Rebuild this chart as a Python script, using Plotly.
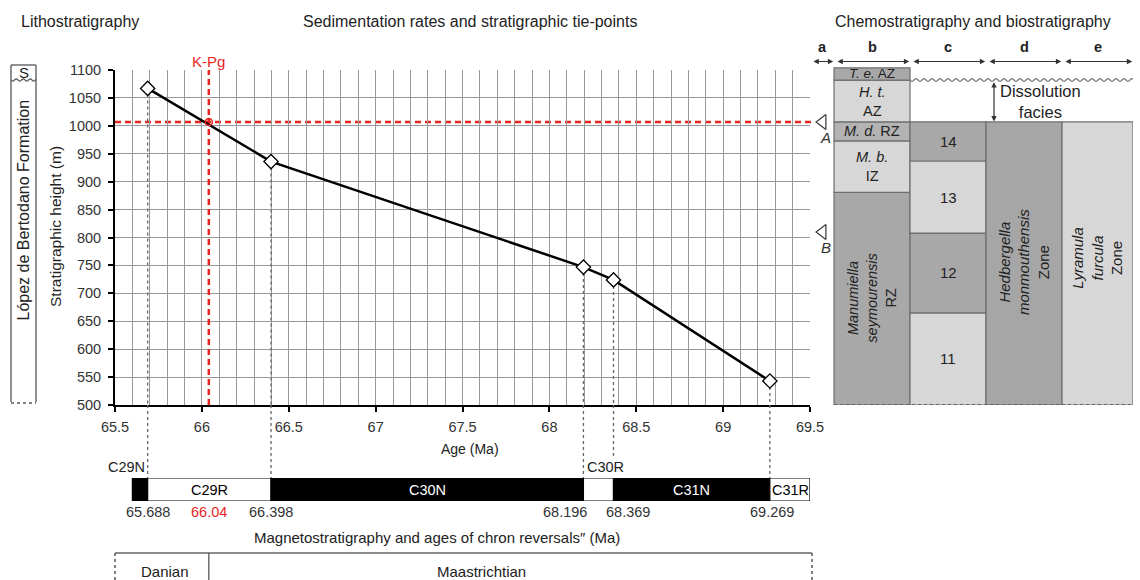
import numpy as np
import plotly.graph_objects as go

W, H = 1140, 580


def px(x):
    return x / W


def py(y):
    return 1 - y / H


# ---------------- data ----------------
tie_ages = [65.688, 66.398, 68.196, 68.369, 69.269]
tie_heights = [1067, 936, 747, 724, 543]
tie_line_bottom_px = [478, 478, 478, 456, 478]

kpg_age = 66.04
kpg_height = 1007

ab_labels = ["A", "B"]
ab_heights = [1007, 810]

chron_names = ["C29N", "C29R", "C30N", "C30R", "C31N", "C31R"]
chron_start = [65.60, 65.688, 66.398, 68.196, 68.369, 69.269]
chron_end = [65.688, 66.398, 68.196, 68.369, 69.269, 69.5]
chron_normal = [True, False, True, False, True, False]

reversal_ages = [65.688, 66.04, 66.398, 68.196, 68.369, 69.269]
reversal_labels = ["65.688", "66.04", "66.398", "68.196", "68.369", "69.269"]
reversal_colors = ["#333", "#e8251f", "#333", "#333", "#333", "#333"]
reversal_shift = [0, 0, 0, -18, 15, 2]

stage_names = ["Danian", "Maastrichtian"]
stage_boundary = 66.04

# chemo/biostratigraphy columns (stratigraphic height, m)
col_b_names = ["<i>Manumiella<br>seymourensis</i><br>RZ", "<i>M. b.</i><br>IZ",
               "<i>M. d.</i> RZ", "<i>H. t.</i><br>AZ", "<i>T. e.</i> AZ"]
col_b_base = [500, 881, 973, 1007, 1082]
col_b_top = [881, 973, 1007, 1082, 1104]
col_b_color = ["#a8a8a8", "#d7d7d7", "#b3b3b3", "#d7d7d7", "#a8a8a8"]

col_c_names = ["11", "12", "13", "14"]
col_c_base = [500, 665, 808, 937]
col_c_top = [665, 808, 937, 1007]
col_c_color = ["#d7d7d7", "#a8a8a8", "#d7d7d7", "#a8a8a8"]

col_d_name = "<i>Hedbergella<br>monmouthensis</i><br>Zone"
col_d_base, col_d_top = 500, 1007
col_e_name = "<i>Lyramula<br>furcula</i><br>Zone"
col_e_base, col_e_top = 500, 1007

col_letters = ["a", "b", "c", "d", "e"]
col_edges = [-0.316, 0.0, 1.0, 2.0, 3.0, 3.934]

dissolution_top = 1082
dissolution_base = 1007

FONT = "Liberation Sans, Arial, sans-serif"
TXT = "#222"
GRID = "#999999"
RED = "#e8251f"

fig = go.Figure()

# ---------------- main sedimentation-rate plot ----------------
fig.add_trace(go.Scatter(
    x=tie_ages, y=tie_heights, mode="lines+markers",
    line=dict(color="black", width=2.5),
    marker=dict(symbol="diamond", size=11, color="white",
                line=dict(color="black", width=1.3)),
    xaxis="x", yaxis="y", hoverinfo="skip", cliponaxis=False))
fig.add_trace(go.Scatter(
    x=[kpg_age], y=[kpg_height], mode="markers",
    marker=dict(symbol="circle-open", size=7, color=RED, line=dict(width=1.5)),
    xaxis="x", yaxis="y", hoverinfo="skip"))


# ---------------- chemostratigraphy columns ----------------
def col_bars(center, width, bases, tops, colors):
    fig.add_trace(go.Bar(
        x=[center] * len(bases), y=[t - b for b, t in zip(bases, tops)], base=bases,
        width=[width] * len(bases), marker=dict(color=colors, line=dict(color="#6e6e6e", width=1.2)),
        xaxis="x2", yaxis="y2", hoverinfo="skip"))


col_bars(0.5, 1.0, col_b_base, col_b_top, col_b_color)
col_bars(1.5, 1.0, col_c_base, col_c_top, col_c_color)
col_bars(2.5, 1.0, [col_d_base], [col_d_top], ["#a6a6a6"])
col_bars((3.0 + 3.934) / 2, 0.934, [col_e_base], [col_e_top], ["#d7d7d7"])

# A / B markers
fig.add_trace(go.Scatter(
    x=[-0.15] * len(ab_heights), y=ab_heights, mode="markers",
    marker=dict(symbol="triangle-left-open", size=13, color="#444", line=dict(width=1.3)),
    xaxis="x2", yaxis="y2", hoverinfo="skip", cliponaxis=False))

# ---------------- magnetostratigraphy bar ----------------
fig.add_trace(go.Bar(
    y=[0.5] * len(chron_names), x=[e - s for s, e in zip(chron_start, chron_end)],
    base=chron_start, orientation="h", width=[1] * len(chron_names),
    marker=dict(color=["black" if n else "white" for n in chron_normal],
                line=dict(color="black", width=1.2)),
    xaxis="x3", yaxis="y3", hoverinfo="skip"))

shapes = []
ann = []


def A(**kw):
    kw.setdefault("xanchor", "center")
    kw.setdefault("yanchor", "middle")
    kw.setdefault("showarrow", False)
    ann.append(kw)


# dotted tie-point verticals
for a, h, bpx in zip(tie_ages, tie_heights, tie_line_bottom_px):
    shapes.append(dict(type="line", xref="x", yref="y", x0=a, x1=a, y0=h, y1=500,
                       line=dict(color="#666", width=1.3, dash="dot"), layer="between"))
    shapes.append(dict(type="line", xref="x", yref="paper", x0=a, x1=a, y0=py(405), y1=py(bpx),
                       line=dict(color="#666", width=1.3, dash="dot")))

# K-Pg red dashed lines
shapes.append(dict(type="line", xref="x", yref="y", x0=kpg_age, x1=kpg_age, y0=500, y1=1100,
                   line=dict(color=RED, width=2.5, dash="6px,4px"), layer="between"))
shapes.append(dict(type="line", xref="paper", yref="y", x0=px(115), x1=px(815), y0=kpg_height,
                   y1=kpg_height, line=dict(color=RED, width=2.5, dash="6px,4px"), layer="between"))
A(x=kpg_age, xref="x", y=py(61), yref="paper", text="K-Pg", font=dict(size=15, color=RED))


def wavy(x0, x1, y, amp=1.4, wl=8.0):
    xs = np.arange(x0, x1 + 0.01, 1.0)
    ys = y + amp * np.sin(2 * np.pi * (xs - x0) / wl)
    return "M " + " L ".join(f"{px(a):.5f},{py(b):.5f}" for a, b in zip(xs, ys))


# wavy unconformity in chemostrat panel
shapes.append(dict(type="path", xref="paper", yref="paper", path=wavy(910, 1133, 80),
                   line=dict(color="#777", width=1.2)))
# dotted base of columns
shapes.append(dict(type="line", xref="x2", yref="y2", x0=0, x1=3.934, y0=500, y1=500,
                   line=dict(color="#555", width=1.6, dash="dot")))

# ---------------- lithostratigraphy column ----------------
for xx in (11, 36):
    shapes.append(dict(type="line", xref="paper", yref="paper", x0=px(xx), x1=px(xx),
                       y0=py(65), y1=py(402), line=dict(color="#555", width=1.3)))
shapes.append(dict(type="line", xref="paper", yref="paper", x0=px(11), x1=px(36),
                   y0=py(65), y1=py(65), line=dict(color="#555", width=1.3)))
shapes.append(dict(type="path", xref="paper", yref="paper", path=wavy(11, 36, 80, amp=1.2, wl=7),
                   line=dict(color="#555", width=1.2)))
shapes.append(dict(type="line", xref="paper", yref="paper", x0=px(11), x1=px(36),
                   y0=py(403), y1=py(403), line=dict(color="#555", width=1.6, dash="dot")))
A(x=px(23.5), y=py(72.5), xref="paper", yref="paper", text="S", font=dict(size=15, color=TXT))
A(x=px(23.5), y=py(210), xref="paper", yref="paper", text="López de Bertodano Formation",
  textangle=-90, font=dict(size=16, color=TXT))

# ---------------- stage bar ----------------
shapes.append(dict(type="line", xref="paper", yref="paper", x0=px(115), x1=px(812),
                   y0=py(553), y1=py(553), line=dict(color="#666", width=1.5)))
for xx in (115, 812):
    shapes.append(dict(type="line", xref="paper", yref="paper", x0=px(xx), x1=px(xx),
                       y0=py(553), y1=py(580), line=dict(color="#555", width=1.5, dash="dot")))
shapes.append(dict(type="line", xref="x", yref="paper", x0=stage_boundary, x1=stage_boundary,
                   y0=py(553), y1=py(580), line=dict(color="#555", width=1.3)))
A(x=px(165), y=py(571), xref="paper", yref="paper", text=stage_names[0], font=dict(size=15, color=TXT))
A(x=px(481), y=py(571), xref="paper", yref="paper", text=stage_names[1], font=dict(size=15, color=TXT))

# ---------------- magneto labels ----------------
for name, s, e, n in zip(chron_names, chron_start, chron_end, chron_normal):
    if name == "C29N":
        A(x=e, xref="x3", y=py(467), yref="paper", text=name, xanchor="right",
          xshift=-1, font=dict(size=14.5, color=TXT))
    elif name == "C30R":
        A(x=s, xref="x3", y=py(467), yref="paper", text=name, xanchor="left",
          xshift=2, font=dict(size=14.5, color=TXT))
    elif name == "C31R":
        A(x=s, xref="x3", y=0.5, yref="y3", text=name, xanchor="left",
          font=dict(size=14.5, color="black"))
    else:
        A(x=(s + e) / 2, xref="x3", y=0.5, yref="y3", text=name,
          font=dict(size=14.5, color="white" if n else "black"))
for a, lab, c, sh in zip(reversal_ages, reversal_labels, reversal_colors, reversal_shift):
    A(x=a, xref="x3", y=py(512), yref="paper", text=lab, xshift=sh, font=dict(size=14.5, color=c))
A(x=px(437), y=py(537), xref="paper", yref="paper",
  text="Magnetostratigraphy and ages of chron reversals\u2033 (Ma)", font=dict(size=15, color=TXT))

# axis titles
A(x=px(470), y=py(449), xref="paper", yref="paper", text="Age (Ma)", font=dict(size=14, color=TXT))
A(x=px(56), y=py(227), xref="paper", yref="paper", text="Stratigraphic height (m)",
  textangle=-90, font=dict(size=15.5, color=TXT))

# headers
A(x=px(80), y=py(22), xref="paper", yref="paper", text="Lithostratigraphy",
  font=dict(size=16, color=TXT))
A(x=px(470), y=py(22), xref="paper", yref="paper",
  text="Sedimentation rates and stratigraphic tie-points", font=dict(size=16, color=TXT))
A(x=px(973), y=py(22), xref="paper", yref="paper",
  text="Chemostratigraphy and biostratigraphy", font=dict(size=16, color=TXT))

# column letters + double arrows
for i, letter in enumerate(col_letters):
    x0, x1 = col_edges[i], col_edges[i + 1]
    A(x=(x0 + x1) / 2, xref="x2", y=py(47), yref="paper", text=f"<b>{letter}</b>",
      font=dict(size=14.5, color=TXT))
    ann.append(dict(x=x1 - 0.01, xref="x2", y=py(61.5), yref="paper", text="",
                    ax=x0 + 0.025, axref="x2", ay=0, ayref="pixel", showarrow=True,
                    arrowside="end+start", arrowhead=2, startarrowhead=2, arrowsize=0.9,
                    startarrowsize=0.9, arrowwidth=1.2, arrowcolor="#333"))

# zone labels
for name, b, t in zip(col_b_names, col_b_base, col_b_top):
    if name.startswith("<i>Manumiella"):
        A(x=0.5, xref="x2", y=(b + t) / 2, yref="y2", text=name, textangle=-90,
          font=dict(size=14.5, color=TXT))
    elif "T. e." in name:
        A(x=0.5, xref="x2", y=(b + t) / 2 + 1, yref="y2", text=name, font=dict(size=13.5, color=TXT))
    else:
        A(x=0.5, xref="x2", y=(b + t) / 2, yref="y2", text=name, font=dict(size=14.5, color=TXT))
for name, b, t in zip(col_c_names, col_c_base, col_c_top):
    A(x=1.5, xref="x2", y=(b + t) / 2, yref="y2", text=name, font=dict(size=15, color=TXT))
A(x=2.5, xref="x2", y=756, yref="y2", text=col_d_name, textangle=-90, font=dict(size=15, color=TXT))
A(x=3.467, xref="x2", y=763, yref="y2", text=col_e_name, textangle=-90, font=dict(size=15, color=TXT))
A(x=2.72, xref="x2", y=1044, yref="y2", text="Dissolution<br>facies", font=dict(size=16.5, color=TXT))
ann.append(dict(x=2.105, xref="x2", y=dissolution_base + 1, yref="y2", text="",
                ax=2.105, axref="x2", ay=dissolution_top - 1, ayref="y2", showarrow=True,
                arrowside="end+start", arrowhead=2, startarrowhead=2, arrowsize=0.9,
                startarrowsize=0.9, arrowwidth=1.2, arrowcolor="#333"))
for lab, h in zip(ab_labels, ab_heights):
    A(x=-0.11, xref="x2", y=h, yref="y2", text=f"<i>{lab}</i>", yshift=-16,
      font=dict(size=15, color="#333"))

axis_common = dict(showgrid=True, gridcolor=GRID, gridwidth=1, showline=True, linecolor="black",
                   linewidth=2, ticks="outside", ticklen=5, tickwidth=2, tickcolor="black",
                   zeroline=False, fixedrange=True, automargin=False,
                   tickfont=dict(size=14.5, color="#333"))
hidden = dict(visible=False, fixedrange=True, automargin=False)

fig.update_layout(
    width=W, height=H, autosize=False,
    margin=dict(l=0, r=0, t=0, b=0, pad=0, autoexpand=False),
    paper_bgcolor="white", plot_bgcolor="rgba(0,0,0,0)", showlegend=False, barmode="overlay",
    font=dict(family=FONT, size=14, color=TXT),
    xaxis=dict(domain=[px(115), px(810)], range=[65.5, 69.5], tick0=65.5, dtick=0.5,
               minor=dict(tick0=65.5, dtick=0.1, showgrid=True, gridcolor=GRID, gridwidth=1, ticks=""),
               anchor="y", ticklabelstandoff=3, **axis_common),
    yaxis=dict(domain=[py(405), py(70)], range=[500, 1100], tick0=500, dtick=50,
               anchor="x", ticklabelstandoff=4, **axis_common),
    xaxis2=dict(domain=[px(810), px(1133)], range=[-0.316, 3.934], anchor="y2", **hidden),
    yaxis2=dict(domain=[py(405), py(66)], range=[500, 1107.2], anchor="x2", **hidden),
    xaxis3=dict(domain=[px(115), px(810)], range=[65.5, 69.5], anchor="y3", **hidden),
    yaxis3=dict(domain=[py(501), py(478)], range=[0, 1], anchor="x3", **hidden),
    shapes=shapes, annotations=ann,
)

fig.write_html("out.html", config={"displayModeBar": False},
               post_script="document.body.style.margin='0px';document.body.style.overflow='hidden';")
